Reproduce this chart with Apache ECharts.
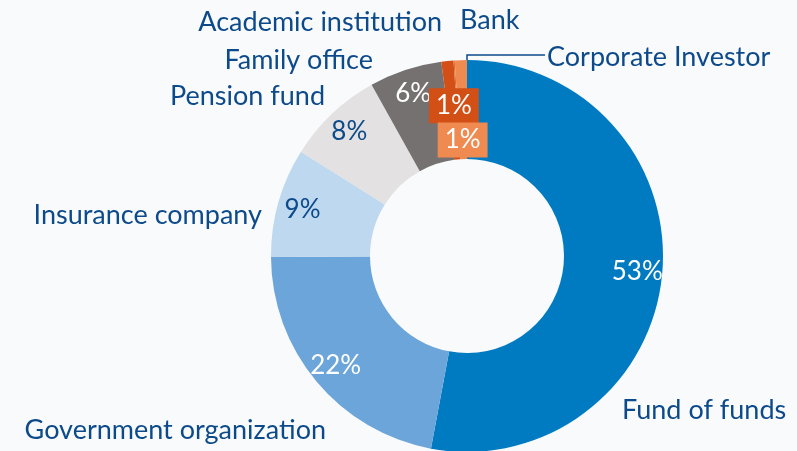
<!DOCTYPE html>
<html>
<head>
<meta charset="utf-8">
<script src="https://cdn.jsdelivr.net/npm/echarts@6/dist/echarts.min.js"></script>
<style>
  html, body { margin: 0; padding: 0; background: #f8fafc; }
  #chart { width: 797px; height: 451px; }
</style>
</head>
<body>
<div id="chart"></div>
<script>
// investor types, clockwise from 12 o'clock
var categories = ['Fund of funds', 'Government organization', 'Insurance company', 'Pension fund',
  'Family office', 'Academic institution', 'Bank', 'Corporate Investor'];
var shares = [53, 22, 9, 8, 6, 1, 0.1, 1];
var shareLabels = ['53%', '22%', '9%', '8%', '6%', '1%', '', '1%'];

var colors = ['#007bc2', '#6ca5da', '#bed8ef', '#e3e1e1', '#757170', '#d24f16', '#e06a2a', '#ef8a50'];
var pctColors = ['#fff', '#fff', '#0d4a8a', '#0d4a8a', '#fff', '#fff', '#fff', '#fff'];

// where the category names sit: [x, y, align]
var namePos = [
  [622, 410, 'left'], [326, 430, 'right'], [262, 215, 'right'], [325, 96, 'right'],
  [373, 60, 'right'], [442, 22, 'right'], [460, 20, 'left'], [547, 57, 'left']
];
// nudges for the two small 1% boxes
var pctNudge = { 5: [4, 20], 7: [1, 55] };

var navy = '#0d4a8a';
var font = 'Lato';
var chart = echarts.init(document.getElementById('chart'));

var center = [467, 256];

var sliceData = categories.map(function (c, i) {
  return { name: c, value: shares[i], itemStyle: { color: colors[i] } };
});

var pctData = categories.map(function (c, i) {
  var lbl = { show: shareLabels[i] !== '', formatter: shareLabels[i], color: pctColors[i] };
  if (i === 5 || i === 7) {
    lbl.backgroundColor = colors[i];
    lbl.lineHeight = 28;
    lbl.padding = [5, 7, 2, 7];
  }
  return { name: c, value: shares[i], label: lbl };
});

var nameData = categories.map(function (c, i) {
  return { name: c, value: shares[i], labelLine: { show: i === 7 } };
});

var option = {
  backgroundColor: '#f8fafc',
  animation: false,
  series: [
    {
      // the slices
      type: 'pie',
      center: center,
      radius: [97, 196],
      silent: true,
      label: { show: false },
      labelLine: { show: false },
      data: sliceData
    },
    {
      // percentages
      type: 'pie',
      center: center,
      radius: [140, 196],
      silent: true,
      avoidLabelOverlap: false,
      itemStyle: { color: 'transparent' },
      label: {
        position: 'inside',
        fontFamily: font,
        fontSize: 26,
        lineHeight: 30
      },
      labelLine: { show: false },
      labelLayout: function (p) {
        var n = pctNudge[p.dataIndex];
        return n ? { dx: n[0], dy: n[1] } : {};
      },
      data: pctData
    },
    {
      // category names
      type: 'pie',
      center: center,
      radius: [97, 196],
      silent: true,
      avoidLabelOverlap: false,
      itemStyle: { color: 'transparent' },
      label: {
        position: 'outside',
        fontFamily: font,
        fontSize: 27,
        color: navy
      },
      labelLine: { lineStyle: { color: navy, width: 1.5 } },
      labelLayout: function (p) {
        var pos = namePos[p.dataIndex];
        var out = { x: pos[0], y: pos[1], align: pos[2], verticalAlign: 'middle' };
        if (p.dataIndex === 7) {
          out.labelLinePoints = [[467, 63], [467, 55], [545, 55]];
        }
        return out;
      },
      data: nameData
    }
  ]
};

chart.setOption(option);
</script>
</body>
</html>
